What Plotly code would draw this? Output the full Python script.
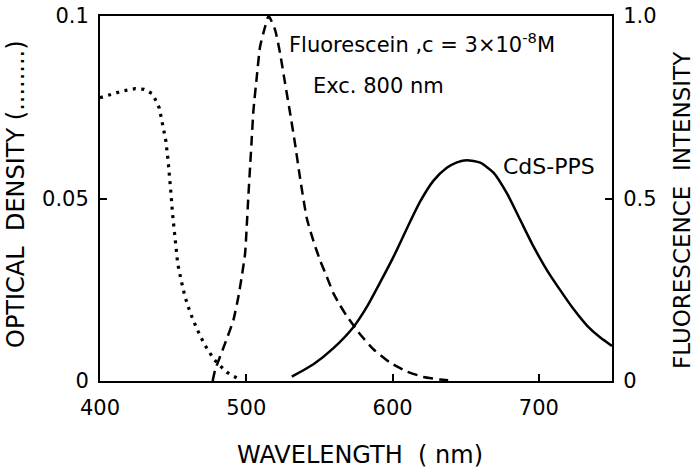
import plotly.graph_objects as go

# Optical density (dotted, left axis)
od_wl = [400, 406.8, 415.9, 424, 430.1, 435.4, 438.3, 440.6, 441.7, 443.3, 445, 446.5,
         447.9, 448.6, 449.5, 450.6, 451.8, 453.1, 455.4, 458.1, 461.6, 466.1, 471.3,
         478, 482.1, 486.7, 490.8, 494.9]
od_val = [0.0776, 0.0785, 0.0795, 0.0801, 0.0799, 0.0788, 0.0768, 0.0747, 0.0726, 0.0700,
          0.0658, 0.0606, 0.0555, 0.0510, 0.0462, 0.0416, 0.0368, 0.0322, 0.0277, 0.0231,
          0.0188, 0.0144, 0.0101, 0.0059, 0.0042, 0.0024, 0.0014, 0.0006]

# Fluorescein fluorescence (dashed, right axis)
fl_wl = [477, 478.7, 485.5, 491.2, 494.6, 496.9, 499.2, 500.3, 501.4, 502.6, 503.8, 504.9,
         507.2, 509.4, 512.9, 515.3, 519.7, 523.1, 526.5, 530, 533.4, 536.8, 541.4, 546,
         550.5, 555.1, 559.6, 564, 568.7, 577.8, 586.9, 598.4, 609.8, 621.1, 632.6, 638]
fl_val = [0.0, 0.030, 0.103, 0.167, 0.231, 0.286, 0.350, 0.423, 0.505, 0.587, 0.669, 0.742,
          0.834, 0.916, 0.971, 1.0, 0.962, 0.898, 0.816, 0.733, 0.648, 0.555, 0.445, 0.382,
          0.330, 0.285, 0.240, 0.208, 0.178, 0.128, 0.087, 0.050, 0.026, 0.011, 0.004, 0.002]

# CdS-PPS fluorescence (solid, right axis)
cds_wl = [531.1, 545.9, 559.6, 573.3, 582.4, 591.5, 600.6, 609.8, 618.9, 628, 637.1, 644,
          650.8, 659.9, 669, 678.2, 687.3, 696.4, 705.5, 714.6, 723.7, 732.9, 742, 750]
cds_val = [0.012, 0.046, 0.090, 0.148, 0.203, 0.270, 0.340, 0.418, 0.492, 0.549, 0.584, 0.599,
           0.605, 0.598, 0.571, 0.514, 0.441, 0.368, 0.304, 0.249, 0.197, 0.152, 0.119, 0.096]

x_ticks = [400, 500, 600, 700]
y1_ticks = [0, 0.05, 0.1]
y1_text = ["0", "0.05", "0.1"]
y2_ticks = [0, 0.5, 1.0]
y2_text = ["0", "0.5", "1.0"]

FONT = "DejaVu Sans"
L, R, T, B = 100, 88, 16, 91
W, H = 700, 472
PW, PH = W - L - R, H - T - B

fig = go.Figure()
fig.add_trace(go.Scatter(x=od_wl, y=od_val, mode="lines", yaxis="y",
                         line=dict(color="black", width=3.2, dash="3px,5.5px")))
fig.add_trace(go.Scatter(x=fl_wl, y=fl_val, mode="lines", yaxis="y2",
                         line=dict(color="black", width=2.5, dash="10px,6px", shape="spline", smoothing=0.5)))
fig.add_trace(go.Scatter(x=cds_wl, y=cds_val, mode="lines", yaxis="y2",
                         line=dict(color="black", width=2.5, shape="spline", smoothing=0.6)))

axis_common = dict(showgrid=False, zeroline=False, showline=True, linecolor="black",
                   linewidth=2, ticks="inside", ticklen=7, tickwidth=2, tickcolor="black",
                   automargin=False,
                   tickfont=dict(family=FONT, size=21, color="black"))


def px2paper(px, py):
    return (px - L) / PW, (H - B - py) / PH


def title_ann(text, px, py, size, angle=0):
    x, y = px2paper(px, py)
    return dict(text=text, x=x, y=y, xref="paper", yref="paper", textangle=angle,
                showarrow=False, xanchor="center", yanchor="middle",
                font=dict(family=FONT, size=size, color="black"))


fig.update_layout(
    width=W, height=H,
    margin=dict(l=L, r=R, t=T, b=B, autoexpand=False),
    paper_bgcolor="white", plot_bgcolor="white",
    showlegend=False,
    xaxis=dict(range=[400, 750], tickvals=x_ticks, mirror=True, ticklabelstandoff=7, **axis_common),
    yaxis=dict(range=[0, 0.1], tickvals=y1_ticks, ticktext=y1_text, ticklabelstandoff=5, **axis_common),
    yaxis2=dict(range=[0, 1.0], tickvals=y2_ticks, ticktext=y2_text, overlaying="y", side="right",
                anchor="x", ticklabelstandoff=5, **axis_common),
    annotations=[
        dict(text="Fluorescein ,c = 3×10<sup>-8</sup>M", x=527.5, y=0.926, xref="x", yref="y2",
             xanchor="left", yanchor="middle", showarrow=False,
             font=dict(family=FONT, size=21, color="black")),
        dict(text="Exc. 800 nm", x=544.5, y=0.808, xref="x", yref="y2",
             xanchor="left", yanchor="middle", showarrow=False,
             font=dict(family=FONT, size=21, color="black")),
        dict(text="CdS-PPS", x=674, y=0.587, xref="x", yref="y2",
             xanchor="left", yanchor="middle", showarrow=False,
             font=dict(family=FONT, size=22, color="black")),
        title_ann("WAVELENGTH  ( nm)", 360, 455, 24),
        title_ann("OPTICAL  DENSITY (........)", 16, 194, 24, -90),
        title_ann("FLUORESCENCE  INTENSITY", 682, 210, 23, -90),
    ],
)

fig.write_html("out.html", config={"displayModeBar": False},
               post_script="document.body.style.margin='0';document.body.style.padding='0';")
